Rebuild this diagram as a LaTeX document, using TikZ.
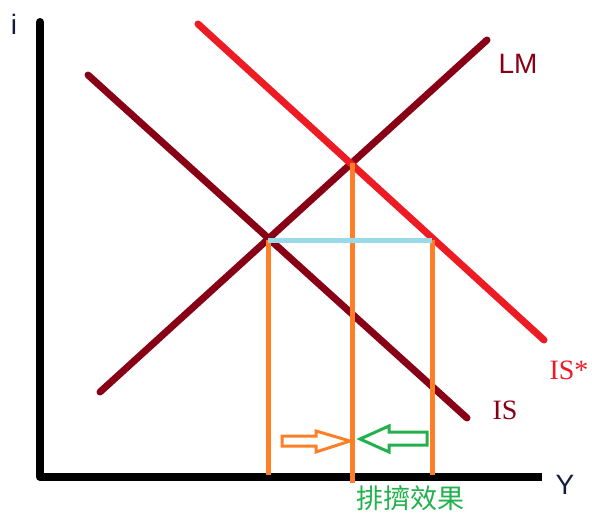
\documentclass[tikz,border=0pt]{standalone}
\usepackage{fontspec}
\setmainfont{Liberation Serif}
\newfontfamily\sansf{Liberation Sans}
\newfontfamily\cjk{Noto Sans CJK TC}
\definecolor{darkred}{RGB}{136,0,21}
\definecolor{brightred}{RGB}{237,28,36}
\definecolor{myorange}{RGB}{255,127,39}
\definecolor{lightblue}{RGB}{153,217,234}
\definecolor{mygreen}{RGB}{34,177,76}
\definecolor{navy}{RGB}{20,30,60}
\begin{document}
\begin{tikzpicture}[x=1pt,y=-1pt,
  axisline/.style={line width=8pt,black},
  curve/.style={line width=7pt,line cap=round},
  guide/.style={line width=5pt,myorange},
  lbl/.style={inner sep=0pt,font=\fontsize{28}{30}\selectfont}]
\useasboundingbox (0,0) rectangle (592,516);
% axes
\coordinate (o) at (40,477);
\coordinate (ytop) at (40,22);
\coordinate (xend) at (542,477);
\draw[axisline,line cap=round] (ytop) -- (o);
\draw[axisline] (o) -- (xend);
% curves
\coordinate (lm1) at (100,392);
\coordinate (lm2) at (487,40);
\coordinate (is1) at (88,75);
\coordinate (is2) at (467,418);
\coordinate (iss1) at (198,24);
\coordinate (iss2) at (544,340);
\draw[curve,darkred] (is1) -- (is2);
\draw[curve,darkred] (lm1) -- (lm2);
\draw[curve,brightred] (iss1) -- (iss2);
% intersections
\coordinate (e1) at (268,240);
\coordinate (e2) at (352,163);
\coordinate (e3) at (432,240);
\coordinate (b1) at (268,475);
\coordinate (b2) at (352,483);
\coordinate (b3) at (432,475);
\draw[guide] (e1) -- (b1);
\draw[guide] (e2) -- (b2);
\draw[guide] (e3) -- (b3);
\draw[line width=5pt,lightblue] (e1) -- (e3);
% hollow arrows
\draw[line width=3pt,myorange,line join=miter]
  (282,436) -- (316,436) -- (316,431) -- (350,441) -- (316,452) -- (316,446) -- (282,446) -- cycle;
\draw[line width=3pt,mygreen,line join=miter]
  (427,432) -- (389,432) -- (389,426) -- (360,439) -- (389,452) -- (389,445) -- (427,445) -- cycle;
% labels
\node[lbl,navy,font=\sansf\fontsize{28}{30}\selectfont] (li) at (14,24) {i};
\node[lbl,navy,font=\sansf\fontsize{28}{30}\selectfont] (ly) at (565,485) {Y};
\node[lbl,darkred,font=\sansf\fontsize{28}{30}\selectfont] (llm) at (518,64) {LM};
\node[lbl,darkred] (lis) at (505,410) {IS};
\node[lbl,brightred] (liss) at (569,370) {IS*};
\node[lbl,mygreen,font=\cjk\fontsize{27}{30}\selectfont] (lcrowd) at (410,498) {排擠效果};
\end{tikzpicture}
\end{document}
